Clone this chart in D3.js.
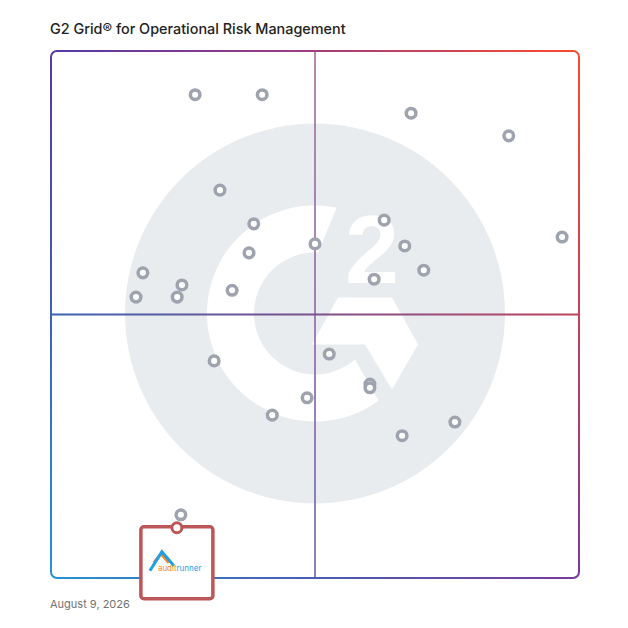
<!DOCTYPE html>
<html>
<head>
<meta charset="utf-8">
<script src="https://cdn.jsdelivr.net/npm/d3@7"></script>
<style>
  body { margin: 0; background: #fff; }
  text { font-family: Inter, "Noto Sans", sans-serif; }
</style>
</head>
<body>
<div id="grid"></div>
<script>
const title = "G2 Grid® for Operational Risk Management";
const dateLabel = "August 9, 2026";

// satisfaction (x) and market presence (y), 0-100 on each axis
const satisfaction = [27.3, 40.0, 68.2, 86.7, 32.0, 38.4, 63.1, 96.8, 50.0, 37.5, 67.0, 70.6, 61.2,
  17.4, 24.8, 16.1, 23.9, 34.3, 30.9, 52.7, 60.4, 60.4, 48.5, 41.9, 76.5, 66.5];
const presence = [91.7, 91.7, 88.2, 83.9, 73.6, 67.2, 67.9, 64.7, 63.4, 61.7, 63.0, 58.4, 56.7,
  57.9, 55.6, 53.3, 53.3, 54.6, 41.2, 42.5, 36.8, 36.1, 34.2, 30.9, 29.6, 27.0];

// highlighted product
const featured = { name: "auditrunner", satisfaction: 24.6, presence: 12.0 };

const width = 628, height = 628;
const margin = { top: 51, right: 49, bottom: 50, left: 51 };

const svg = d3.select("#grid").append("svg")
  .attr("width", width)
  .attr("height", height);

const x = d3.scaleLinear().domain([0, 100]).range([margin.left, width - margin.right]);
const y = d3.scaleLinear().domain([0, 100]).range([height - margin.bottom, margin.top]);

const [x0, x1] = x.range();
const [y1, y0] = y.range();
const cx = x(50), cy = y(50);

const defs = svg.append("defs");
function grad(id, xa, ya, xb, yb, c0, c1, mid) {
  const g = defs.append("linearGradient").attr("id", id)
    .attr("gradientUnits", "userSpaceOnUse")
    .attr("x1", xa).attr("y1", ya).attr("x2", xb).attr("y2", yb);
  g.append("stop").attr("offset", "0%").attr("stop-color", c0);
  if (mid) g.append("stop").attr("offset", "50%").attr("stop-color", mid);
  g.append("stop").attr("offset", "100%").attr("stop-color", c1);
}
const cTL = "#5438a6", cTR = "#fd4b2c", cBL = "#2593d4", cBR = "#7a3a9e";
grad("gTop", x0, 0, x1, 0, cTL, cTR, "#a23d7e");
grad("gRight", 0, y0, 0, y1, cTR, cBR, "#c4405a");
grad("gBottom", x0, 0, x1, 0, cBL, cBR, "#4a5cb4");
grad("gLeft", 0, y0, 0, y1, cTL, cBL, "#4060b8");
grad("gV", 0, y0, 0, y1, "#b07aa8", "#7c70bc");
grad("gH", x0, 0, x1, 0, "#3a62b6", "#c2425e", "#7c4f8c");

// title
svg.append("text")
  .attr("x", 50).attr("y", 34)
  .style("font-size", "14.4px")
  .style("font-weight", 500)
  .attr("fill", "#222")
  .text(title);

// G2 watermark
const wm = svg.append("g").attr("transform", `translate(${cx},${cy - 1})`);
wm.append("circle").attr("r", 190).attr("fill", "#e9ecef");
const polar = (r, deg) => [r * Math.sin(deg * Math.PI / 180), -r * Math.cos(deg * Math.PI / 180)];
const Ro = 108, Ri = 61;
const oT = polar(Ro, 11.5), iT = polar(Ri, 3), oB = polar(Ro, 144), iB = polar(Ri, 139);
wm.append("path")
  .attr("fill", "#fff")
  .attr("d", `M${oT}A${Ro},${Ro} 0 1 0 ${oB}L${iB}A${Ri},${Ri} 0 1 1 ${iT}Z`);
wm.append("path")
  .attr("fill", "#fff")
  .attr("d", "M23,-16L77,-16L103,31L77,76L50,31L-3,31Z");
wm.append("text")
  .attr("x", 57).attr("y", -31)
  .attr("text-anchor", "middle")
  .attr("fill", "#fff")
  .style("font-family", "'Liberation Sans', Arial, sans-serif")
  .style("font-weight", 700)
  .style("font-size", "97px")
  .text("2");

// quadrant lines
svg.append("line")
  .attr("x1", cx).attr("x2", cx).attr("y1", y0).attr("y2", y1)
  .attr("stroke", "url(#gV)").attr("stroke-width", 1.8);
svg.append("line")
  .attr("x1", x0).attr("x2", x1).attr("y1", cy).attr("y2", cy)
  .attr("stroke", "url(#gH)").attr("stroke-width", 1.8);

// frame
const r = 6;
const frame = svg.append("g").attr("fill", "none").attr("stroke-width", 2);
frame.append("path").attr("stroke", "url(#gTop)")
  .attr("d", `M${x0},${y0 + r}A${r},${r} 0 0 1 ${x0 + r},${y0}H${x1 - r}A${r},${r} 0 0 1 ${x1},${y0 + r}`);
frame.append("path").attr("stroke", "url(#gRight)")
  .attr("d", `M${x1},${y0 + r}V${y1 - r}`);
frame.append("path").attr("stroke", "url(#gBottom)")
  .attr("d", `M${x1},${y1 - r}A${r},${r} 0 0 1 ${x1 - r},${y1}H${x0 + r}A${r},${r} 0 0 1 ${x0},${y1 - r}`);
frame.append("path").attr("stroke", "url(#gLeft)")
  .attr("d", `M${x0},${y1 - r}V${y0 + r}`);

// products
const products = satisfaction.map((s, i) => ({ s, p: presence[i] }));
products.push({ s: featured.satisfaction, p: featured.presence });
svg.append("g")
  .selectAll("circle")
  .data(products)
  .join("circle")
  .attr("cx", d => x(d.s))
  .attr("cy", d => y(d.p))
  .attr("r", 4.8)
  .attr("fill", "#fff")
  .attr("stroke", "#9ea3ae")
  .attr("stroke-width", 3.5);

// featured product card
const fx = x(featured.satisfaction) - 4, fy = y(featured.presence) + 12;
const card = svg.append("g").attr("transform", `translate(${fx},${fy})`);
card.append("rect")
  .attr("x", -36).attr("y", 0).attr("width", 72).attr("height", 72)
  .attr("rx", 3)
  .attr("fill", "#fff")
  .attr("stroke", "#bd5656")
  .attr("stroke-width", 3.5);
card.append("circle")
  .attr("cy", 1).attr("r", 5)
  .attr("fill", "#fff")
  .attr("stroke", "#bd5656")
  .attr("stroke-width", 3);

// auditrunner logo
const logo = card.append("g").attr("transform", "translate(-26,24)");
logo.append("path")
  .attr("d", "M3,12L10,3L18,12")
  .attr("fill", "none").attr("stroke", "#f58a2a").attr("stroke-width", 3);
logo.append("path")
  .attr("d", "M-1,20L11,1L23,15")
  .attr("fill", "none").attr("stroke", "#1e9fe6").attr("stroke-width", 3);
const lt = logo.append("text")
  .attr("x", 7).attr("y", 20)
  .style("font-size", "8px");
lt.append("tspan").attr("fill", "#f58a2a").text("audit");
lt.append("tspan").attr("fill", "#1e9fe6").text("runner");

// date
svg.append("text")
  .attr("x", 50).attr("y", 608)
  .style("font-size", "11px")
  .attr("fill", "#727272")
  .text(dateLabel);
</script>
</body>
</html>
